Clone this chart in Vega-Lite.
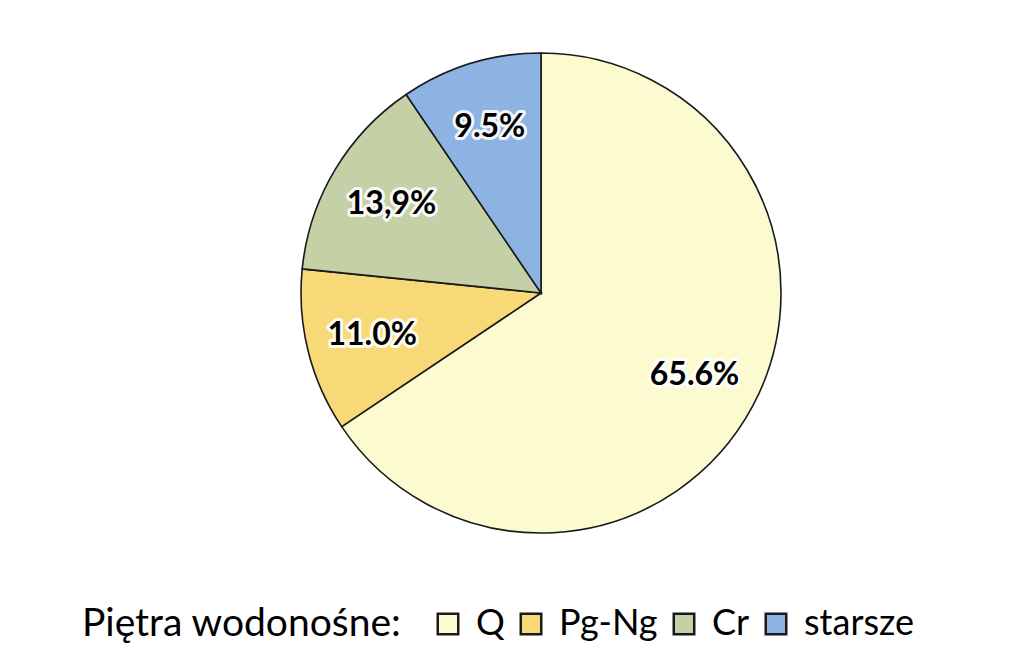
{
  "$schema": "https://vega.github.io/schema/vega-lite/v6.json",
  "width": 480,
  "height": 480,
  "autosize": {"type": "none"},
  "padding": {"left": 301, "top": 53, "right": 241, "bottom": 135},
  "background": "white",
  "data": {
    "values": [
      {"k": "Q", "v": 65.6, "o": 1, "lab": "65.6%"},
      {"k": "Pg-Ng", "v": 11.0, "o": 2, "lab": "11.0%"},
      {"k": "Cr", "v": 13.9, "o": 3, "lab": "13,9%"},
      {"k": "starsze", "v": 9.5, "o": 4, "lab": "9.5%"}
    ]
  },
  "encoding": {
    "theta": {"field": "v", "type": "quantitative", "stack": true},
    "order": {"field": "o", "type": "quantitative"}
  },
  "layer": [
    {
      "mark": {"type": "arc", "outerRadius": 240, "stroke": "#1a1a1a", "strokeWidth": 1.6},
      "encoding": {
        "color": {
          "field": "k",
          "type": "nominal",
          "scale": {"domain": ["Q", "Pg-Ng", "Cr", "starsze"], "range": ["#FCFBCF", "#F8D978", "#C4D0A6", "#8DB3E2"]},
          "legend": {
            "title": "Piętra wodonośne:",
            "orient": "none",
            "legendX": -219,
            "legendY": 553,
            "direction": "horizontal",
            "titleOrient": "left",
            "titleFont": "Lato",
            "titleFontSize": 39,
            "titleFontWeight": "normal",
            "titleColor": "#000000",
            "titleLimit": 500,
            "titlePadding": 28,
            "titleBaseline": "middle",
            "labelFont": "Lato",
            "labelFontSize": 36,
            "labelColor": "#000000",
            "labelLimit": 300,
            "labelOffset": 10,
            "symbolType": "square",
            "symbolSize": 420,
            "symbolStrokeColor": "#1a1a1a",
            "symbolStrokeWidth": 2.5,
            "symbolOpacity": 1,
            "columnPadding": 8
          }
        }
      }
    },
    {
      "mark": {"type": "text", "radius": 174, "font": "Lato", "fontSize": 32, "fontWeight": "bold", "stroke": "white", "strokeWidth": 6, "strokeJoin": "round", "fill": "white", "opacity": 0.9},
      "encoding": {"text": {"field": "lab"}}
    },
    {
      "mark": {"type": "text", "radius": 174, "font": "Lato", "fontSize": 32, "fontWeight": "bold", "fill": "#000000"},
      "encoding": {"text": {"field": "lab"}}
    }
  ]
}
